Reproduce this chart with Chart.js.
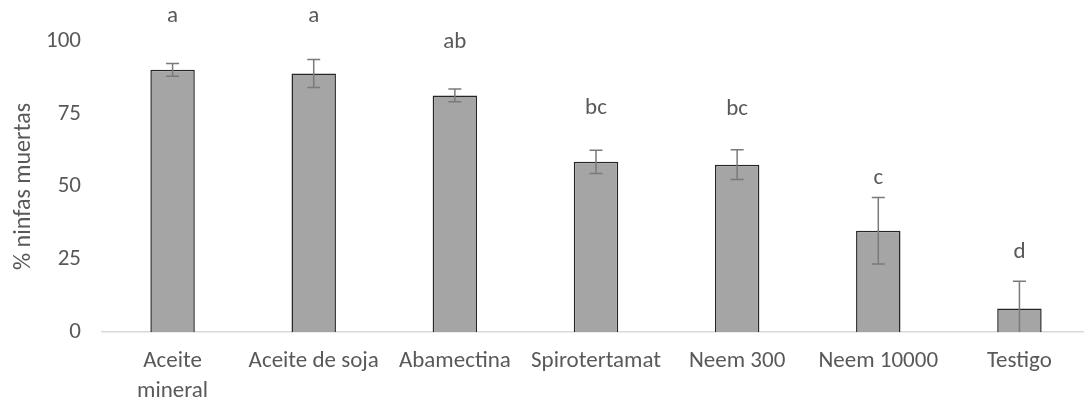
<!DOCTYPE html>
<html>
<head>
<meta charset="utf-8">
<script src="https://cdn.jsdelivr.net/npm/chart.js@4.4.1/dist/chart.umd.min.js"></script>
<style>
  html, body { margin: 0; padding: 0; background: #fff; overflow: hidden; }
  #wrap { width: 1100px; height: 405px; position: relative; }
</style>
</head>
<body>
<div id="wrap"><canvas id="c"></canvas></div>
<script>
const categories = [["Aceite", "mineral"], "Aceite de soja", "Abamectina", "Spirotertamat", "Neem 300", "Neem 10000", "Testigo"];
const means = [90.1, 88.8, 81.3, 58.5, 57.5, 34.8, 8.1];
const errors = [2.2, 4.8, 2.2, 4.0, 5.1, 11.4, 9.3];
const letters = ["a", "a", "ab", "bc", "bc", "c", "d"];
const letterLevels = [108.6, 108.6, 99.7, 77.0, 76.7, 52.7, 27.4];
const yTicks = [0, 25, 50, 75, 100];

const FONT = "Carlito, Calibri, Lato, sans-serif";
const TEXT = "#595959";

const errorBarPlugin = {
  id: "errorBars",
  afterDatasetsDraw(chart) {
    const ctx = chart.ctx;
    const meta = chart.getDatasetMeta(0);
    const ys = chart.scales.y;
    const area = chart.chartArea;
    ctx.save();
    ctx.beginPath();
    ctx.rect(area.left, area.top - 60, area.right - area.left, area.bottom - area.top + 60);
    ctx.clip();
    ctx.strokeStyle = "#7a7a7a";
    ctx.lineWidth = 1.5;
    meta.data.forEach((bar, i) => {
      const x = bar.x;
      const yHi = ys.getPixelForValue(means[i] + errors[i]);
      const yLo = ys.getPixelForValue(means[i] - errors[i]);
      const cap = 6.5;
      ctx.beginPath();
      ctx.moveTo(x, yHi); ctx.lineTo(x, yLo);
      ctx.moveTo(x - cap, yHi); ctx.lineTo(x + cap, yHi);
      if (means[i] - errors[i] >= 0) {
        ctx.moveTo(x - cap, yLo); ctx.lineTo(x + cap, yLo);
      }
      ctx.stroke();
    });
    ctx.restore();
    ctx.save();
    ctx.fillStyle = TEXT;
    ctx.font = "23px " + FONT;
    ctx.textAlign = "center";
    ctx.textBaseline = "middle";
    meta.data.forEach((bar, i) => {
      ctx.fillText(letters[i], bar.x, ys.getPixelForValue(letterLevels[i]));
    });
    ctx.restore();
  }
};

new Chart(document.getElementById("c"), {
  type: "bar",
  data: {
    labels: categories,
    datasets: [{
      data: means,
      backgroundColor: "#a5a5a5",
      borderColor: "#262626",
      borderWidth: 1.5,
      borderSkipped: "bottom",
      barPercentage: 0.315,
      categoryPercentage: 1.0
    }]
  },
  options: {
    responsive: true,
    maintainAspectRatio: false,
    animation: false,
    layout: { padding: { top: 41, right: 10, bottom: 0, left: 0 } },
    plugins: { legend: { display: false }, tooltip: { enabled: false } },
    scales: {
      x: {
        grid: { display: false, drawTicks: false },
        border: { display: true, color: "#d9d9d9", width: 1.5 },
        ticks: { color: TEXT, font: { family: FONT, size: 23, lineHeight: 1.3 }, padding: 14, maxRotation: 0, autoSkip: false },
        afterFit: (s) => { s.height = 73; }
      },
      y: {
        min: 0, max: 100,
        afterBuildTicks: (s) => { s.ticks = yTicks.map(v => ({ value: v })); },
        grid: { display: false, drawTicks: false },
        border: { display: false },
        ticks: { color: TEXT, font: { family: FONT, size: 23 }, padding: 21 },
        title: { display: true, text: "% ninfas muertas", color: TEXT, font: { family: FONT, size: 24 }, padding: { top: 10, bottom: 0 } },
        afterFit: (s) => { s.width = 102; }
      }
    }
  },
  plugins: [errorBarPlugin]
});
</script>
</body>
</html>
